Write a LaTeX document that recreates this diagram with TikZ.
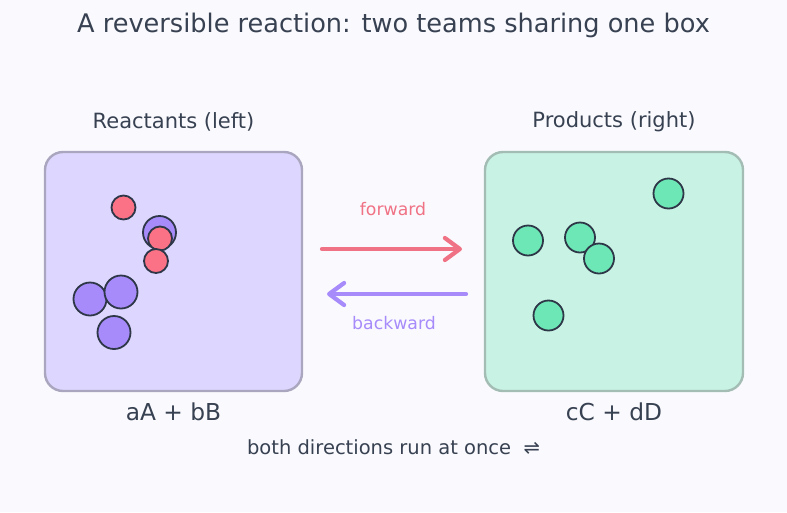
\documentclass[tikz,border=0pt]{standalone}
\usepackage{fontspec}
\setmainfont{DejaVu Sans}
\usetikzlibrary{arrows.meta}
\definecolor{bg}{HTML}{FAFAFE}
\definecolor{txt}{HTML}{374151}
\definecolor{lfill}{HTML}{DDD6FE}
\definecolor{lborder}{HTML}{ABA6C0}
\definecolor{rfill}{HTML}{C8F2E3}
\definecolor{rborder}{HTML}{A3BDB4}
\definecolor{purp}{HTML}{A78BFA}
\definecolor{pink}{HTML}{FB7185}
\definecolor{fwd}{HTML}{F07285}
\definecolor{grn}{HTML}{6EE7B7}
\definecolor{ink}{HTML}{2D3748}
\tikzset{
  boxstyle/.style={draw, line width=2.4pt, rounded corners=18pt},
  mol/.style={circle, draw=ink, line width=1.8pt, inner sep=0pt},
  bigA/.style={mol, fill=purp, minimum size=33pt},
  smallB/.style={mol, fill=pink, minimum size=24pt},
  prodC/.style={mol, fill=grn, minimum size=30pt},
  lbl/.style={text=txt, font=\fontsize{21}{25}\selectfont},
  eq/.style={text=txt, font=\fontsize{23.3}{27}\selectfont},
  arr/.style={line width=4.2pt, line cap=round, -{Straight Barb[length=15pt, width=22pt, line width=4.2pt, round]}}
}
\begin{document}
\begin{tikzpicture}[x=1pt, y=-1pt]
\fill[bg] (0,0) rectangle (787,512);
\useasboundingbox (0,0) rectangle (787,512);
\node[text=txt, font=\fontsize{25.6}{30}\selectfont] (title) at (393.5,25) {A reversible reaction: two teams sharing one box};
\node[lbl] (rlab) at (173.5,122) {Reactants (left)};
\node[lbl] (plab) at (614,122) {Products (right)};
\draw[boxstyle, fill=lfill, draw=lborder] (45,152) rectangle (302,391);
\draw[boxstyle, fill=rfill, draw=rborder] (485,152) rectangle (743,391);
\node (lbox) at (173.5,271.5) {};
\node (rbox) at (614,271.5) {};
% reactant molecules
\node[smallB] (r1) at (123.5,207.5) {};
\node[bigA] (a1) at (159.5,232.5) {};
\node[smallB] (r2) at (160,238.5) {};
\node[smallB] (r3) at (156,261) {};
\node[bigA] (a2) at (90,299) {};
\node[bigA] (a3) at (121,292) {};
\node[bigA] (a4) at (114,332.5) {};
% product molecules
\node[prodC] (p1) at (668.5,193.5) {};
\node[prodC] (p2) at (528,240.5) {};
\node[prodC] (p3) at (580,237.5) {};
\node[prodC] (p4) at (599,258.5) {};
\node[prodC] (p5) at (548.5,315.5) {};
% arrows
\coordinate (f1) at (322,249);
\coordinate (f2) at (462,249);
\coordinate (b1) at (466,294);
\coordinate (b2) at (327,294);
\draw[arr, fwd] (f1) -- (f2);
\draw[arr, purp] (b1) -- (b2);
\node[text=fwd, font=\fontsize{17.3}{20}\selectfont] (fl) at (393,209) {forward};
\node[text=purp, font=\fontsize{17.3}{20}\selectfont] (bl) at (394,323) {backward};
\node[eq] (le) at (173.5,412) {aA + bB};
\node[eq] (re) at (614,412) {cC + dD};
\node[text=txt, font=\fontsize{19.5}{23}\selectfont] (foot) at (393.5,447) {both directions run at once\ \ ⇌};
\end{tikzpicture}
\end{document}
